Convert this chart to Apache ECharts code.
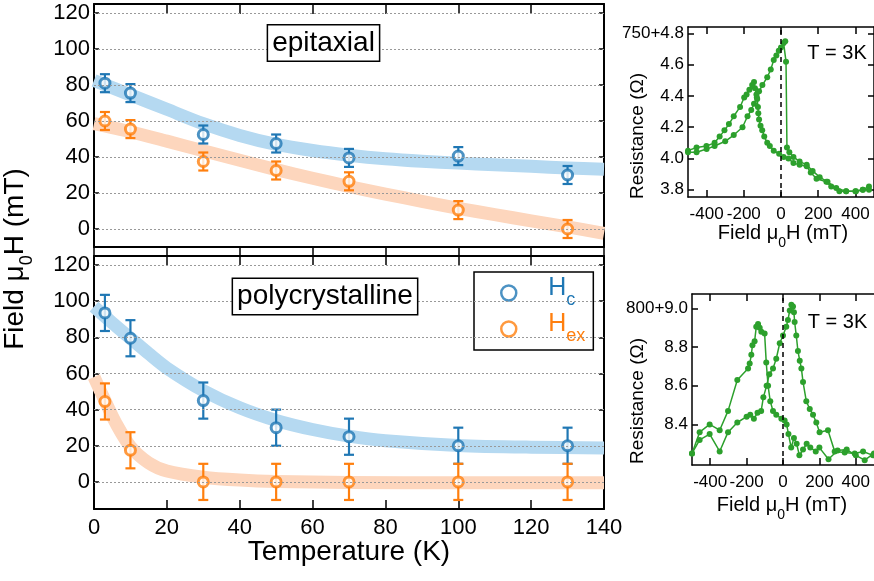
<!DOCTYPE html>
<html><head><meta charset="utf-8">
<script src="https://cdn.jsdelivr.net/npm/echarts@6/dist/echarts.min.js"></script>
<style>html,body{margin:0;padding:0;background:#fff}#c{width:874px;height:581px}</style>
</head><body><div id="c"></div>
<script>
// ---------- data ----------
const tempsEpi = [3, 10, 30, 50, 70, 100, 130];
const epiHc    = [81, 75.5, 52.5, 47.5, 39.5, 40.5, 30];
const epiHex   = [60, 55.5, 37.5, 32.5, 26.5, 10.5, 0];
const epiErr   = [5, 5, 5, 5, 5, 5, 5];

const tempsPoly = [3, 10, 30, 50, 70, 100, 130];
const polyHc    = [93.5, 79.5, 45, 30, 25, 20, 20];
const polyHex   = [44.5, 17.5, 0, 0, 0, 0, 0];
const polyErr   = [10, 10, 10, 10, 10, 10, 10];

const fitEpiT   = [0, 10, 20, 30, 40, 50, 60, 70, 80, 90, 100, 110, 120, 130, 140];
const fitEpiHc  = [82.5, 74.5, 66.5, 58.5, 52, 47, 43.6, 41, 39, 37.6, 36.6, 35.7, 34.8, 33.9, 33.2];
const fitEpiHex = [58.5, 54, 48.8, 43.5, 38.2, 33, 28.2, 23.6, 19.4, 15.4, 11.5, 8, 4.5, 1.2, -2.4];

const fitPolyHcT  = [0, 5, 10, 15, 20, 30, 40, 50, 60, 70, 80, 100, 120, 140];
const fitPolyHc   = [97, 88, 79.5, 71, 63, 50.5, 41, 34, 29, 25.3, 22.8, 20.2, 19.2, 18.8];
const fitPolyHexT = [0, 3, 6, 10, 15, 20, 30, 40, 50, 70, 100, 140];
const fitPolyHex  = [58, 45, 32.5, 19.5, 10.5, 6, 2.6, 1, 0.2, -0.3, -0.5, -0.5];

const mainYTicks = [0, 20, 40, 60, 80, 100, 120];
const insetXTicks = [-400, -200, 0, 200, 400];
const topInsetYTicks = [3.8, 4.0, 4.2, 4.4, 4.6, 4.8];
const botInsetYTicks = [8.4, 8.6, 8.8, 9.0];

const topUpField = [-500,-454,-400,-357,-300,-254,-207,-180,-160,-145,-130,-118,-100,-74,-55,-39,-25,-12,0,14,23,27,32,45,67,100,138,170,208,250,297,350,400,440,473];
const topUpR     = [4.04,4.04,4.06,4.08,4.11,4.15,4.20,4.27,4.31,4.35,4.39,4.43,4.47,4.52,4.57,4.63,4.66,4.69,4.71,4.74,4.75,4.62,4.07,4.04,4.01,3.98,3.96,3.92,3.88,3.85,3.81,3.79,3.79,3.80,3.80];
const topDownField = [473,440,403,350,314,270,244,191,160,138,100,67,40,14,-10,-39,-60,-74,-90,-101,-110,-118,-122,-124,-128,-132,-140,-145,-155,-170,-185,-198,-220,-254,-280,-304,-330,-357,-401,-454,-500];
const topDownR     = [3.82,3.80,3.79,3.79,3.79,3.82,3.85,3.87,3.91,3.95,3.96,3.97,4.00,4.01,4.03,4.05,4.08,4.10,4.14,4.18,4.21,4.25,4.29,4.33,4.38,4.41,4.45,4.49,4.47,4.44,4.41,4.39,4.33,4.27,4.22,4.18,4.14,4.10,4.08,4.07,4.05];

const botUpField = [-500,-458,-403,-348,-302,-251,-200,-180,-160,-140,-120,-108,-90,-75,-55,-37,-18,0,18,27,37,46,55,60,64,73,82,92,101,110,128,147,165,183,201,247,284,339,394,440,494];
const botUpR     = [8.25,8.32,8.35,8.26,8.36,8.41,8.44,8.45,8.43,8.46,8.47,8.54,8.60,8.66,8.69,8.74,8.82,8.86,8.905,8.94,8.99,9.02,9.01,8.98,8.93,8.86,8.78,8.73,8.69,8.62,8.52,8.48,8.45,8.41,8.36,8.37,8.26,8.255,8.25,8.26,8.24];
const botDownField = [500,449,400,350,300,250,200,180,150,130,110,90,75,60,45,30,20,9,-9,-37,-55,-70,-82,-92,-101,-119,-128,-137,-147,-156,-168,-174,-183,-192,-251,-302,-348,-403,-458,-500];
const botDownR     = [8.25,8.215,8.24,8.27,8.265,8.22,8.28,8.26,8.28,8.30,8.27,8.24,8.30,8.33,8.28,8.35,8.40,8.42,8.43,8.45,8.47,8.52,8.60,8.72,8.87,8.88,8.90,8.92,8.905,8.83,8.81,8.76,8.715,8.69,8.63,8.47,8.37,8.40,8.36,8.25];

// ---------- styles ----------
const FONT = "'Liberation Sans', Arial, sans-serif";
const BLUE = '#1f77b4', ORANGE = '#ff7f0e', GREEN = '#2ca02c';
const BAND_B = '#b5d9f1', BAND_O = '#fdd6bd';
const zip = (a, b) => a.map((v, i) => [v, b[i]]);
const zip3 = (a, b, c) => a.map((v, i) => [v, b[i], c[i]]);
const black = {color: '#000', width: 2};

function errSeries(xi, yi, xs, ys, es, color) {
  return {
    type: 'custom', xAxisIndex: xi, yAxisIndex: yi, z: 3, silent: true,
    data: zip3(xs, ys, es), encode: {x: 0, y: 1},
    renderItem: (params, api) => {
      const t = api.value(0), v = api.value(1), e = api.value(2);
      const p1 = api.coord([t, v + e]), p2 = api.coord([t, v - e]);
      const hw = 5, st = {stroke: color, lineWidth: 2.2};
      return {type: 'group', children: [
        {type: 'line', shape: {x1: p1[0], y1: p1[1], x2: p2[0], y2: p2[1]}, style: st},
        {type: 'line', shape: {x1: p1[0] - hw, y1: p1[1], x2: p1[0] + hw, y2: p1[1]}, style: st},
        {type: 'line', shape: {x1: p2[0] - hw, y1: p2[1], x2: p2[0] + hw, y2: p2[1]}, style: st}
      ]};
    }
  };
}
function band(xi, yi, ts, vs, color) {
  return {type: 'line', xAxisIndex: xi, yAxisIndex: yi, data: zip(ts, vs), smooth: 0.3,
    showSymbol: false, silent: true, z: 1, lineStyle: {width: 13, color: color, cap: 'butt', join: 'round'}};
}
function marks(xi, yi, name, ts, vs, color) {
  return {type: 'scatter', name: name, xAxisIndex: xi, yAxisIndex: yi, data: zip(ts, vs), z: 4,
    symbol: 'circle', symbolSize: 10, itemStyle: {color: '#fff', borderColor: color, borderWidth: 3}};
}
function gridLines(xi, yi) {
  return {type: 'line', xAxisIndex: xi, yAxisIndex: yi, data: [], z: 0, silent: true,
    markLine: {silent: true, symbol: ['none', 'none'], label: {show: false}, animation: false,
      lineStyle: {type: [2, 2], color: '#999', width: 1}, data: mainYTicks.map(v => ({yAxis: v}))}};
}
function loop(xi, yi, xs, ys) {
  return {type: 'line', xAxisIndex: xi, yAxisIndex: yi, data: zip(xs, ys), z: 3, silent: true,
    symbol: 'circle', symbolSize: 6, showSymbol: true, itemStyle: {color: GREEN},
    lineStyle: {color: GREEN, width: 1.5}};
}
function mainX(grid, pos, tickLen, inside, labels) {
  return {type: 'value', gridIndex: grid, position: pos, min: 0, max: 140, interval: 20,
    axisLine: {show: true, onZero: false, lineStyle: black},
    axisTick: {show: true, inside: inside, length: tickLen, lineStyle: {color: '#000', width: 1.5}},
    axisLabel: {show: labels, fontSize: 22, color: '#000', fontFamily: FONT, margin: 8},
    splitLine: {show: false}};
}
function mainY(grid, pos, min, labels) {
  return {type: 'value', gridIndex: grid, position: pos, min: min, max: 125,
    axisLine: {show: true, onZero: false, lineStyle: black},
    axisTick: {show: true, inside: true, length: 5, customValues: mainYTicks, lineStyle: {color: '#000', width: 1.5}},
    axisLabel: {show: labels, customValues: mainYTicks, fontSize: 22, color: '#000', fontFamily: FONT, margin: 4},
    splitLine: {show: false}};
}
function insetX(grid, pos, labels, showTicks) {
  return {type: 'value', gridIndex: grid, position: pos, min: -500, max: 500,
    axisLine: {show: true, onZero: false, lineStyle: {color: '#000', width: 1.5}},
    axisTick: {show: showTicks, inside: true, length: 7, customValues: insetXTicks, lineStyle: {color: '#000', width: 1.5}},
    axisLabel: {show: labels, customValues: insetXTicks, fontSize: 17, color: '#000', fontFamily: FONT, margin: 9},
    splitLine: {show: false}};
}
function insetY(grid, pos, min, max, ticks, labels, showLine, showTicks, prefix) {
  return {type: 'value', gridIndex: grid, position: pos, min: min, max: max,
    axisLine: {show: showLine, onZero: false, lineStyle: {color: '#000', width: 1.5}},
    axisTick: {show: showTicks, inside: true, length: 6, customValues: ticks, lineStyle: {color: '#000', width: 1.5}},
    axisLabel: {show: labels, customValues: ticks, fontSize: 17, color: '#000', fontFamily: FONT, margin: 4,
      formatter: v => (Math.abs(v - ticks[ticks.length - 1]) < 1e-6 ? prefix : '') + v.toFixed(1)},
    splitLine: {show: false}};
}

// rich styles for a main text with a subscript: both tokens top-aligned,
// subscript pushed down by top padding
const subRich = (size, subSize, pad, lh, color) => ({
  a: {fontSize: size, fontFamily: FONT, fill: color, lineHeight: lh, verticalAlign: 'top'},
  s: {fontSize: subSize, fontFamily: FONT, fill: color, lineHeight: lh, padding: [pad, 0, 0, 0], verticalAlign: 'top'}
});

const option = {
  animation: false,
  backgroundColor: '#fff',
  grid: [
    {left: 94, top: 4, width: 510, height: 243},
    {left: 94, top: 256, width: 510, height: 253},
    {left: 688, top: 27, width: 192, height: 170},
    {left: 692, top: 294, width: 182, height: 171}
  ],
  xAxis: [
    mainX(0, 'bottom', 9, false, false),
    mainX(0, 'top', 10, true, false),
    mainX(1, 'bottom', 9, true, true),
    mainX(1, 'top', 9, true, false),
    insetX(2, 'bottom', true, true),
    insetX(2, 'top', false, true),
    insetX(3, 'bottom', true, true),
    insetX(3, 'top', false, true)
  ],
  yAxis: [
    mainY(0, 'left', -10, true),
    mainY(0, 'right', -10, false),
    mainY(1, 'left', -15, true),
    mainY(1, 'right', -15, false),
    insetY(2, 'left', 3.753, 4.842, topInsetYTicks, true, true, true, '750+'),
    insetY(2, 'right', 3.753, 4.842, topInsetYTicks, false, true, true, ''),
    insetY(3, 'left', 8.19, 9.075, botInsetYTicks, true, true, true, '800+'),
    insetY(3, 'right', 8.19, 9.075, botInsetYTicks, false, false, false, '')
  ],
  legend: {
    left: 474, top: 272, orient: 'vertical', icon: 'circle', itemWidth: 15, itemHeight: 15, itemGap: 3,
    borderColor: '#000', borderWidth: 1.5, borderRadius: 0, padding: [4, 8, 5, 26], backgroundColor: '#fff',
    data: [
      {name: 'Hc', itemStyle: {color: '#fff', borderColor: BLUE, borderWidth: 2.5}},
      {name: 'Hex', itemStyle: {color: '#fff', borderColor: ORANGE, borderWidth: 2.5}}
    ],
    formatter: n => n === 'Hc' ? '{sp| }{hb|H}{sb|c}' : '{sp| }{ho|H}{so|ex}',
    textStyle: {rich: {
      sp: {width: 27, lineHeight: 34, verticalAlign: 'top'},
      hb: {fontSize: 25, fontFamily: FONT, color: BLUE, lineHeight: 34, verticalAlign: 'top'},
      sb: {fontSize: 18, fontFamily: FONT, color: BLUE, lineHeight: 34, padding: [15, 0, 0, 0], verticalAlign: 'top'},
      ho: {fontSize: 25, fontFamily: FONT, color: ORANGE, lineHeight: 34, verticalAlign: 'top'},
      so: {fontSize: 18, fontFamily: FONT, color: ORANGE, lineHeight: 34, padding: [15, 0, 0, 0], verticalAlign: 'top'}
    }}
  },
  graphic: [
    {type: 'text', x: 20, y: 259, rotation: Math.PI / 2, z: 10,
      style: {text: '{a|Field μ}{s|0}{a|H (mT)}', rich: subRich(28, 18, 17, 38, '#000'), align: 'center', verticalAlign: 'middle'}},
    {type: 'text', x: 349, y: 552, z: 10,
      style: {text: 'Temperature (K)', font: '28px ' + FONT, fill: '#000', align: 'center', verticalAlign: 'middle'}},
    {type: 'text', x: 323.5, y: 43, z: 10,
      style: {text: 'epitaxial', font: '28px ' + FONT, fill: '#000', align: 'center', verticalAlign: 'middle',
        backgroundColor: '#fff', borderColor: '#000', borderWidth: 1.5, padding: [3, 4, 4, 4]}},
    {type: 'text', x: 325, y: 296.5, z: 10,
      style: {text: 'polycrystalline', font: '28px ' + FONT, fill: '#000', align: 'center', verticalAlign: 'middle',
        backgroundColor: '#fff', borderColor: '#000', borderWidth: 1.5, padding: [3, 4, 4, 4]}},
    {type: 'text', x: 638, y: 136, rotation: Math.PI / 2, z: 10,
      style: {text: 'Resistance (Ω)', font: '19px ' + FONT, fill: '#000', align: 'center', verticalAlign: 'middle'}},
    {type: 'text', x: 638, y: 401, rotation: Math.PI / 2, z: 10,
      style: {text: 'Resistance (Ω)', font: '19px ' + FONT, fill: '#000', align: 'center', verticalAlign: 'middle'}},
    {type: 'text', x: 783, y: 237, z: 10,
      style: {text: '{a|Field μ}{s|0}{a|H (mT)}', rich: subRich(20, 14, 13, 28, '#000'), align: 'center', verticalAlign: 'middle'}},
    {type: 'text', x: 782, y: 509, z: 10,
      style: {text: '{a|Field μ}{s|0}{a|H (mT)}', rich: subRich(20, 14, 13, 28, '#000'), align: 'center', verticalAlign: 'middle'}},
    {type: 'text', x: 837, y: 53, z: 10,
      style: {text: 'T = 3K', font: '20px ' + FONT, fill: '#000', align: 'center', verticalAlign: 'middle'}},
    {type: 'text', x: 837.5, y: 322, z: 10,
      style: {text: 'T = 3K', font: '20px ' + FONT, fill: '#000', align: 'center', verticalAlign: 'middle'}}
  ],
  series: [
    gridLines(0, 0),
    band(0, 0, fitEpiT, fitEpiHc, BAND_B),
    band(0, 0, fitEpiT, fitEpiHex, BAND_O),
    errSeries(0, 0, tempsEpi, epiHc, epiErr, BLUE),
    errSeries(0, 0, tempsEpi, epiHex, epiErr, ORANGE),
    marks(0, 0, 'Hc', tempsEpi, epiHc, BLUE),
    marks(0, 0, 'Hex', tempsEpi, epiHex, ORANGE),

    gridLines(2, 2),
    band(2, 2, fitPolyHcT, fitPolyHc, BAND_B),
    band(2, 2, fitPolyHexT, fitPolyHex, BAND_O),
    errSeries(2, 2, tempsPoly, polyHc, polyErr, BLUE),
    errSeries(2, 2, tempsPoly, polyHex, polyErr, ORANGE),
    marks(2, 2, 'Hc', tempsPoly, polyHc, BLUE),
    marks(2, 2, 'Hex', tempsPoly, polyHex, ORANGE),

    Object.assign(loop(4, 4, topUpField, topUpR), {
      markLine: {silent: true, symbol: ['none', 'none'], label: {show: false}, animation: false,
        lineStyle: {type: [5, 4], color: '#000', width: 1.5}, data: [{xAxis: 0}]}}),
    loop(4, 4, topDownField, topDownR),
    Object.assign(loop(6, 6, botUpField, botUpR), {
      markLine: {silent: true, symbol: ['none', 'none'], label: {show: false}, animation: false,
        lineStyle: {type: [5, 4], color: '#000', width: 1.5}, data: [{xAxis: 0}]}}),
    loop(6, 6, botDownField, botDownR)
  ]
};
const chart = echarts.init(document.getElementById('c'));
chart.setOption(option);
</script></body></html>
